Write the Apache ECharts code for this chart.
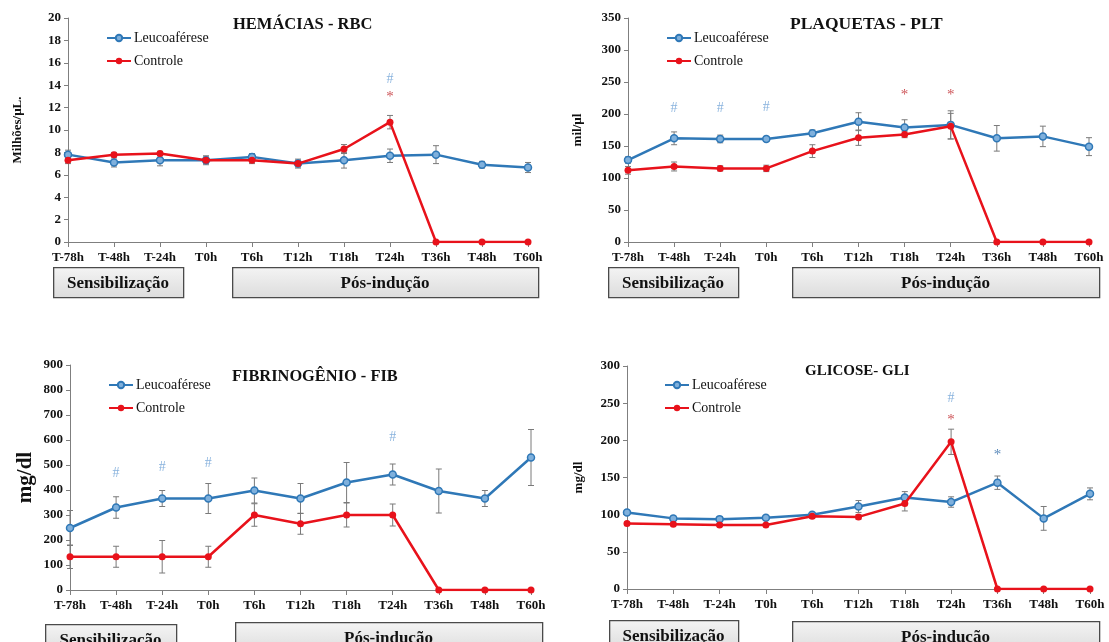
<!DOCTYPE html>
<html>
<head>
<meta charset="utf-8">
<script src="https://cdn.jsdelivr.net/npm/echarts@6/dist/echarts.min.js"></script>
<style>html,body{margin:0;padding:0;background:#fff;}#c{width:1109px;height:642px;}</style>
</head>
<body>
<div id="c"></div>
<script>
// ---------- DATA ----------
const categories = ['T-78h','T-48h','T-24h','T0h','T6h','T12h','T18h','T24h','T36h','T48h','T60h'];
const seriesNames = ['Leucoaférese','Controle'];

const rbcLeuco    = [7.8, 7.1, 7.3, 7.3, 7.6, 7.0, 7.3, 7.7, 7.8, 6.9, 6.65];
const rbcLeucoErr = [0.4, 0.4, 0.5, 0.4, 0.3, 0.4, 0.7, 0.6, 0.8, 0.3, 0.45];
const rbcCtrl     = [7.3, 7.8, 7.9, 7.3, 7.3, 7.0, 8.3, 10.7, 0, 0, 0];
const rbcCtrlErr  = [0.3, 0.2, 0.2, 0.3, 0.3, 0.3, 0.4, 0.6, 0, 0, 0];
const rbcMarks    = [['T24h', 14.5, '#', 'leuco'], ['T24h', 12.9, '*', 'ctrl']];

const pltLeuco    = [128, 162, 161, 161, 170, 188, 179, 183, 162, 165, 149];
const pltLeucoErr = [5, 10, 6, 4, 5, 14, 12, 22, 20, 16, 14];
const pltCtrl     = [112, 118, 115, 115, 142, 163, 168, 181, 0, 0, 0];
const pltCtrlErr  = [6, 7, 4, 5, 10, 12, 5, 20, 0, 0, 0];
const pltMarks    = [['T-48h', 209, '#', 'leuco'], ['T-24h', 209, '#', 'leuco'], ['T0h', 211, '#', 'leuco'],
                     ['T18h', 229, '*', 'ctrl'], ['T24h', 229, '*', 'ctrl']];

const fibLeuco    = [248, 330, 366, 366, 398, 366, 430, 462, 396, 366, 530];
const fibLeucoErr = [70, 43, 32, 60, 50, 60, 80, 42, 88, 32, 112];
const fibCtrl     = [133, 133, 133, 133, 300, 265, 300, 300, 0, 0, 0];
const fibCtrlErr  = [47, 42, 65, 42, 45, 42, 48, 44, 0, 0, 0];
const fibMarks    = [['T-48h', 468, '#', 'leuco'], ['T-24h', 492, '#', 'leuco'], ['T0h', 508, '#', 'leuco'],
                     ['T24h', 612, '#', 'leuco']];

const gliLeuco    = [103, 95, 94, 96, 100, 111, 123, 117, 143, 95, 128];
const gliLeucoErr = [3, 3, 3, 3, 3, 8, 8, 7, 9, 16, 8];
const gliCtrl     = [88, 87, 86, 86, 98, 97, 115, 198, 0, 0, 0];
const gliCtrlErr  = [2, 2, 2, 2, 3, 3, 10, 17, 0, 0, 0];
const gliMarks    = [['T24h', 256, '#', 'leuco'], ['T24h', 227, '*', 'ctrl'], ['T36h', 180, '*', 'leucoDark']];

const titles   = ['HEMÁCIAS - RBC', 'PLAQUETAS - PLT', 'FIBRINOGÊNIO - FIB', 'GLICOSE- GLI'];
const yNames   = ['Milhões/µL.', 'mil/µl', 'mg/dl', 'mg/dl'];
const yMax     = [20, 350, 900, 300];
const yStep    = [2, 50, 100, 50];
const phaseLabels = ['Sensibilização', 'Pós-indução'];

// ---------- STYLE / LAYOUT ----------
const FONT = '"Liberation Serif", "Times New Roman", serif';
const BLUE = '#2f78b7';
const BLUE_FILL = '#7fb0dc';
const RED = '#e8121b';
const markColors = { leuco: '#6a9fd4', ctrl: '#c0282d', leucoDark: '#2f6aa8' };

const panels = [
  { data: [rbcLeuco, rbcLeucoErr, rbcCtrl, rbcCtrlErr, rbcMarks], grid: { left: 68, top: 18, width: 460, height: 224 },
    title: { left: 233, top: 16, size: 16.5 }, legend: { left: 106, top: 31 }, yName: { size: 13, gap: 44 },
    boxes: [[53, 267, 130, 30], [232, 267, 306, 30]] },
  { data: [pltLeuco, pltLeucoErr, pltCtrl, pltCtrlErr, pltMarks], grid: { left: 628, top: 18, width: 461, height: 224 },
    title: { left: 790, top: 15, size: 17.5 }, legend: { left: 666, top: 31 }, yName: { size: 13, gap: 44 },
    boxes: [[608, 267, 130, 30], [792, 267, 307, 30]] },
  { data: [fibLeuco, fibLeucoErr, fibCtrl, fibCtrlErr, fibMarks], grid: { left: 70, top: 365, width: 461, height: 225 },
    title: { left: 232, top: 369, size: 16.4 }, legend: { left: 108, top: 378 }, yName: { size: 21, gap: 34 },
    boxes: [[45, 624, 131, 30], [235, 622, 307, 30]] },
  { data: [gliLeuco, gliLeucoErr, gliCtrl, gliCtrlErr, gliMarks], grid: { left: 627, top: 366, width: 463, height: 223 },
    title: { left: 805, top: 364, size: 15 }, legend: { left: 664, top: 378 }, yName: { size: 13, gap: 42 },
    boxes: [[609, 620, 129, 30], [792, 621, 307, 30]] }
];

function errData(vals, errs) {
  const out = [];
  vals.forEach((v, i) => { if (errs[i] > 0) out.push([i, v - errs[i], v + errs[i]]); });
  return out;
}
function errRender(params, api) {
  const i = api.value(0);
  const top = api.coord([i, api.value(2)]);
  const bot = api.coord([i, api.value(1)]);
  const w = 3;
  const st = { stroke: '#7a7a7a', lineWidth: 1 };
  return { type: 'group', children: [
    { type: 'line', shape: { x1: top[0], y1: top[1], x2: bot[0], y2: bot[1] }, style: st },
    { type: 'line', shape: { x1: top[0] - w, y1: top[1], x2: top[0] + w, y2: top[1] }, style: st },
    { type: 'line', shape: { x1: bot[0] - w, y1: bot[1], x2: bot[0] + w, y2: bot[1] }, style: st }
  ]};
}

const grid = [], xAxis = [], yAxis = [], series = [], title = [], legend = [], graphic = [];
panels.forEach((p, k) => {
  const [lv, le, cv, ce, marks] = p.data;
  grid.push(p.grid);
  xAxis.push({
    type: 'category', gridIndex: k, data: categories, boundaryGap: false,
    axisLine: { lineStyle: { color: '#7f7f7f', width: 1 } },
    axisTick: { show: true, length: 5, lineStyle: { color: '#7f7f7f' } },
    axisLabel: { color: '#111', fontFamily: FONT, fontWeight: 'bold', fontSize: 13, margin: 9, interval: 0 }
  });
  yAxis.push({
    type: 'value', gridIndex: k, min: 0, max: yMax[k], interval: yStep[k],
    name: yNames[k], nameLocation: 'middle', nameRotate: 90, nameGap: p.yName.gap,
    nameTextStyle: { fontFamily: FONT, fontWeight: 'bold', fontSize: p.yName.size, color: '#111' },
    axisLine: { show: true, lineStyle: { color: '#7f7f7f', width: 1 } },
    axisTick: { show: true, length: 4, lineStyle: { color: '#7f7f7f' } },
    splitLine: { show: false },
    axisLabel: { color: '#111', fontFamily: FONT, fontWeight: 'bold', fontSize: 13, margin: 7 }
  });
  title.push({ text: titles[k], left: p.title.left, top: p.title.top, padding: 0,
    textStyle: { fontFamily: FONT, fontWeight: 'bold', fontSize: p.title.size, color: '#111' } });
  legend.push({ data: seriesNames, orient: 'vertical', left: p.legend.left, top: p.legend.top,
    itemWidth: 24, itemHeight: 8, itemGap: 9, selectedMode: false, padding: 0,
    textStyle: { fontFamily: FONT, fontSize: 14, color: '#111', padding: [0, 0, 0, -2] } });

  series.push({ type: 'custom', name: 'errL' + k, xAxisIndex: k, yAxisIndex: k, z: 1,
    renderItem: errRender, data: errData(lv, le), silent: true });
  series.push({ type: 'custom', name: 'errC' + k, xAxisIndex: k, yAxisIndex: k, z: 1,
    renderItem: errRender, data: errData(cv, ce), silent: true });
  series.push({ type: 'line', name: seriesNames[0], xAxisIndex: k, yAxisIndex: k, data: lv, z: 3,
    symbol: 'circle', symbolSize: 7,
    lineStyle: { color: BLUE, width: 2.5 },
    itemStyle: { color: BLUE_FILL, borderColor: BLUE, borderWidth: 1.5 } });
  series.push({ type: 'line', name: seriesNames[1], xAxisIndex: k, yAxisIndex: k, data: cv, z: 4,
    symbol: 'circle', symbolSize: 7,
    lineStyle: { color: RED, width: 2.5 },
    itemStyle: { color: RED, borderColor: RED, borderWidth: 0 } });
  series.push({ type: 'scatter', name: 'marks' + k, xAxisIndex: k, yAxisIndex: k, z: 5, silent: true,
    symbolSize: 0,
    data: marks.map(m => ({ value: [m[0], m[1]], label: { formatter: m[2], color: markColors[m[3]],
      fontSize: m[2] === '#' ? 14 : 15 } })),
    label: { show: true, position: 'inside', fontFamily: FONT } });

  p.boxes.forEach((b, j) => {
    graphic.push({ type: 'rect', left: b[0], top: b[1], z: 10,
      shape: { width: b[2], height: b[3] },
      style: { fill: { type: 'linear', x: 0, y: 0, x2: 0, y2: 1,
        colorStops: [{ offset: 0, color: '#f4f4f4' }, { offset: 1, color: '#dcdcdc' }] },
        stroke: '#4a4a4a', lineWidth: 1.3 } });
    graphic.push({ type: 'text', z: 11, x: b[0] + b[2] / 2, y: b[1] + 16.5,
      style: { text: phaseLabels[j], fontFamily: FONT, fontWeight: 'bold', fontSize: 17, fill: '#111',
        textAlign: 'center', textVerticalAlign: 'middle' } });
  });
});
// clip of the last tick label in the FIB panel (as in the reference)
graphic.push({ type: 'rect', left: 545, top: 597, z: 20, shape: { width: 14, height: 20 }, style: { fill: '#fff' } });

const chart = echarts.init(document.getElementById('c'), null, { renderer: 'canvas' });
chart.setOption({ animation: false, backgroundColor: '#fff', title, legend, grid, xAxis, yAxis, series, graphic });
</script>
</body>
</html>
